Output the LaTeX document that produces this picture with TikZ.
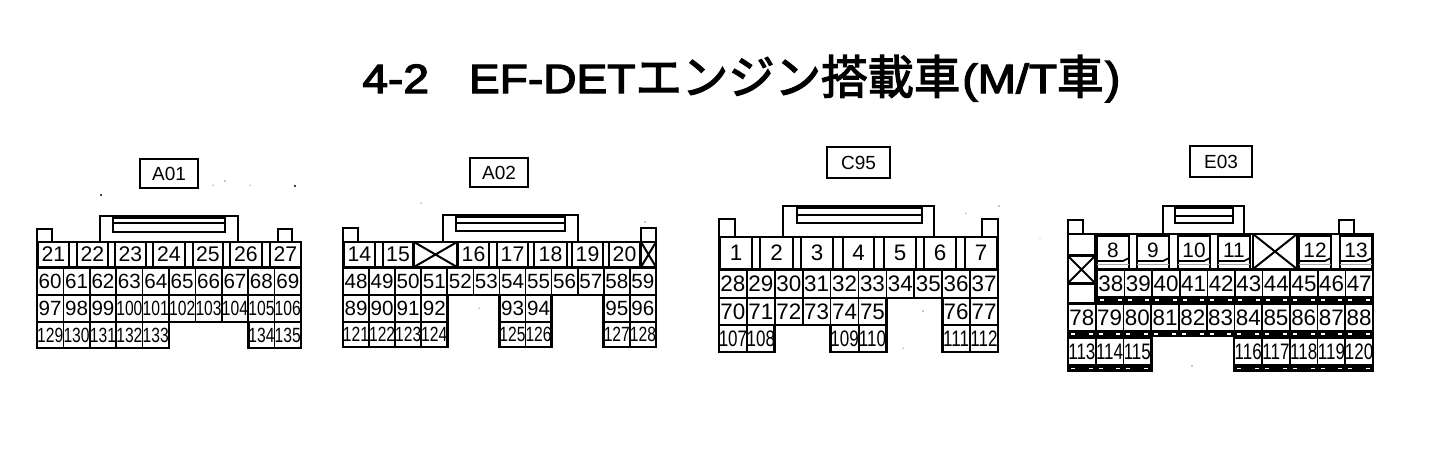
\documentclass[tikz,border=0pt]{standalone}
\usepackage{fontspec}
\setmainfont{Liberation Sans}
\newfontfamily\ttllatin[FakeStretch=1.13,FakeBold=3.2]{Liberation Sans}
\newfontfamily\ttlclose[FakeBold=3.2]{Liberation Sans}
\newfontfamily\ttlcjk[FakeBold=2.6]{Noto Sans CJK JP}
\tikzset{
  pinbox/.style={draw=black,line width=0.85pt,inner sep=0pt,outer sep=0pt,font=\fontsize{10.3}{11}\selectfont},
  topbox/.style={pinbox,font=\fontsize{10.6}{11}\selectfont},
  bigbox/.style={pinbox,font=\fontsize{11.2}{12}\selectfont},
  plainbox/.style={draw=none,inner sep=0pt,outer sep=0pt,text height=8.6pt,text depth=0pt,font=\fontsize{10.4}{12}\selectfont},
  body/.style={draw=black,line width=1.1pt},
  outline/.style={draw=black,line width=1.35pt},
  edge/.style={draw=black,line width=0.85pt},
  thin/.style={draw=black!35,line width=0.5pt},
  tag/.style={draw=black,line width=0.9pt,inner sep=0pt,font=\fontsize{9.5}{11}\selectfont},
  crossbox/.style={draw=black,line width=0.85pt,inner sep=0pt,outer sep=0pt},
  crossline/.style={draw=black,line width=1pt},
  bar/.style={fill=black,draw=none},
  tick/.style={fill=white,draw=none},
  speck/.style={fill=black,draw=none}
}
% name, x0, x1, y0, y1, text, style
\newcommand{\pinat}[7]{\node[#7,minimum width={(#3-#2)*0.5pt},minimum height={(#5-#4)*0.5pt}] (#1) at ({(#2+#3)/2},{(#4+#5)/2}) {#6};}
% x start, cell width, y0, y1, style, index/label list
\newcommand{\pinrow}[6]{\foreach \i/\n in {#6}{%
  \pgfmathsetmacro{\xa}{#1+\i*#2}\pgfmathsetmacro{\xb}{#1+(\i+1)*#2}%
  \pinat{p\n}{\xa}{\xb}{#3}{#4}{\n}{#5}}}
\newcommand{\pinrown}[6]{\foreach \i/\n in {#6}{%
  \pgfmathsetmacro{\xa}{#1+\i*#2}\pgfmathsetmacro{\xb}{#1+(\i+1)*#2}%
  \pinat{p\n}{\xa}{\xb}{#3}{#4}{\scalebox{0.76}[1]{\n}}{#5}}}
% first row: list of x0/x1/label
\newcommand{\toprow}[4]{\foreach \xa/\xb/\n in {#4}{\pinat{p\n}{\xa}{\xb}{#1}{#2}{\n}{#3}}}
\newcommand{\crosscell}[5]{\pinat{#1}{#2}{#3}{#4}{#5}{}{crossbox}\draw[crossline] (#1.north west)--(#1.south east) (#1.north east)--(#1.south west);}
% white ticks on a black bar: x start, cell width, y, index list
\newcommand{\barticks}[4]{\foreach \i in {#4}{%
  \pgfmathsetmacro{\xa}{#1+\i*#2}\pgfmathsetmacro{\xb}{#1+(\i+1)*#2}%
  \fill[tick] (\xa+3,#3-0.7) rectangle (\xa+7,#3+0.7);
  \fill[tick] (\xb-7,#3-0.7) rectangle (\xb-3,#3+0.7);}}
\begin{document}
\begin{tikzpicture}[x=0.5pt,y=-0.5pt]
\useasboundingbox (0,0) rectangle (1452,468);
% title
\node[anchor=base west,inner sep=0pt] (title) at (362,93) {{\ttllatin\fontsize{20.4}{24}\selectfont 4-2\hspace{20pt}EF-DET}\raisebox{-0.5pt}{\ttlcjk\fontsize{23.2}{24}\selectfont エンジン搭載車}\hspace{1pt}{\ttllatin\fontsize{20.4}{24}\selectfont (M/T}\raisebox{-0.5pt}{\ttlcjk\fontsize{23.2}{24}\selectfont 車}\hspace{1pt}{\ttlclose\fontsize{22}{24}\selectfont )}};
% specks
\foreach \sx/\sy/\sr in {101/195/1.1,295/186/1.1,225/181/0.6,250/185/0.5,213/185/0.5,1040/238/0.4,999/206/0.6,966/213/0.5,923/311/0.6,903/348/0.5,1192/366/0.6,479/308/0.5,421/203/0.5,645/222/0.6}{\fill[speck] (\sx,\sy) circle (\sr);}
% ---------- A01
\node[tag,minimum width=29pt,minimum height=14.5pt] (tA01) at (169,173.5) {A01};
\draw[body] (37,242)--(37,229)--(52,229)--(52,242);
\draw[body] (278,242)--(278,229)--(292,229)--(292,242);
\draw[body] (100,242)--(100,216)--(238,216)--(238,242);
\draw[body] (113,218) rectangle (225,232);
\draw[body,line width=0.7pt] (113,223)--(225,223);
\toprow{242}{267}{topbox}{38/69/21,77/108/22,115/146/23,153/185/24,193/223/25,230/262/26,270/301/27}
\pinrow{37}{26.4}{268}{295}{pinbox}{0/60,1/61,2/62,3/63,4/64,5/65,6/66,7/67,8/68,9/69}
\pinrow{37}{26.4}{295}{322}{pinbox}{0/97,1/98,2/99}
\pinrown{37}{26.4}{295}{322}{pinbox}{3/100,4/101,5/102,6/103,7/104,8/105,9/106}
\pinrown{37}{26.4}{322}{348}{pinbox}{0/129,1/130,2/131,3/132,4/133,8/134,9/135}
\draw[outline] (37,242)--(301,242)--(301,267)--(37,267)--cycle;
\draw[outline] (37,267)--(37,348)--(169,348)--(169,322)--(248.2,322)--(248.2,348)--(301,348)--(301,267);
% ---------- A02
\node[tag,minimum width=29pt,minimum height=14.5pt] (tA02) at (499,172.5) {A02};
\draw[body] (343,242)--(343,228)--(358,228)--(358,242);
\draw[body] (641,242)--(641,228)--(656,228)--(656,242);
\draw[body] (443,242)--(443,215)--(578,215)--(578,242);
\draw[body] (456,217) rectangle (565,231);
\draw[body,line width=0.7pt] (456,223)--(565,223);
\toprow{242}{267}{topbox}{344/375/14,383/413/15,458/489/16,497/528/17,534/567/18,572/603/19,609/640/20}
\crosscell{xA}{414}{457}{242}{267}
\crosscell{xB}{641}{656}{242}{267}
\pinrow{343}{26.08}{268}{295}{pinbox}{0/48,1/49,2/50,3/51,4/52,5/53,6/54,7/55,8/56,9/57,10/58,11/59}
\pinrow{343}{26.08}{295}{322}{pinbox}{0/89,1/90,2/91,3/92,6/93,7/94,10/95,11/96}
\pinrown{343}{26.08}{322}{347}{pinbox}{0/121,1/122,2/123,3/124,6/125,7/126,10/127,11/128}
\draw[outline] (343,242) rectangle (656,267);
\draw[outline] (343,267)--(343,347)--(447.3,347)--(447.3,295)--(499.5,295)--(499.5,347)--(551.6,347)--(551.6,295)--(603.8,295)--(603.8,347)--(656,347)--(656,267);
% ---------- C95
\node[tag,minimum width=31.5pt,minimum height=15.5pt] (tC95) at (858.5,162.5) {C95};
\draw[body] (719,237)--(719,219)--(735,219)--(735,237);
\draw[body] (982,237)--(982,219)--(998,219)--(998,237);
\draw[body] (783,237)--(783,206)--(934,206)--(934,237);
\draw[body] (797,208) rectangle (922,223);
\draw[body,line width=0.7pt] (797,215)--(922,215);
\toprow{237}{269}{bigbox}{720/752/1,760/793/2,801/833/3,843/874/4,884/916/5,924/956/6,965/997/7}
\pinrow{719}{27.9}{270}{298}{bigbox}{0/28,1/29,2/30,3/31,4/32,5/33,6/34,7/35,8/36,9/37}
\pinrow{719}{27.9}{298}{325}{bigbox}{0/70,1/71,2/72,3/73,4/74,5/75,8/76,9/77}
\pinrown{719}{27.9}{325}{352}{bigbox}{0/107,1/108,4/109,5/110,8/111,9/112}
\draw[outline] (719,237) rectangle (998,269);
\draw[outline] (719,269)--(719,352)--(774.8,352)--(774.8,325)--(830.6,325)--(830.6,352)--(886.4,352)--(886.4,298)--(942.2,298)--(942.2,352)--(998,352)--(998,269);
% ---------- E03
\node[tag,minimum width=31pt,minimum height=15.5pt] (tE03) at (1221,161.5) {E03};
\draw[body] (1068,234)--(1068,220)--(1083,220)--(1083,234);
\draw[body] (1339,234)--(1339,220)--(1354,220)--(1354,234);
\draw[body] (1163,234)--(1163,206)--(1244,206)--(1244,234);
\draw[body] (1175,208) rectangle (1233,223);
\draw[body,line width=0.7pt] (1175,216)--(1233,216);
\foreach \xa/\xb/\n in {1097/1129/8,1137/1169/9,1178/1210/10,1218/1250/11,1299/1331/12,1340/1372/13}{
  \pinat{p\n}{\xa}{\xb}{236}{261}{\n}{plainbox}
  \draw[edge] ([yshift=-3.5pt]p\n.south west)--(p\n.north west)--(p\n.north east)--([yshift=-3.5pt]p\n.south east);
  \draw[edge] (p\n.south west)--([xshift=-3pt]p\n.south east)--([yshift=1.5pt]p\n.south east);
  \draw[thin] ([yshift=-1.5pt]p\n.south west)--([yshift=-1.5pt]p\n.south east);
}
\crosscell{xC}{1253}{1297}{234}{269}
\pinat{xD}{1068}{1095}{234}{255}{}{crossbox}
\crosscell{xE}{1068}{1095}{256}{283}
\pinat{xF}{1068}{1095}{284}{303}{}{crossbox}
\pinrow{1097}{27.6}{270}{297}{bigbox}{0/38,1/39,2/40,3/41,4/42,5/43,6/44,7/45,8/46,9/47}
\fill[bar] (1096,297) rectangle (1373,303);
\barticks{1097}{27.6}{300}{0,1,2,3,4,5,6,7,8,9}
\pinrow{1068}{27.73}{304}{331}{bigbox}{0/78,1/79,2/80,3/81,4/82,5/83,6/84,7/85,8/86,9/87,10/88}
\fill[bar] (1068,331) rectangle (1373,337);
\barticks{1068}{27.73}{334}{0,1,2,3,4,5,6,7,8,9,10}
\pinrown{1068}{27.73}{338}{365}{bigbox}{0/113,1/114,2/115,6/116,7/117,8/118,9/119,10/120}
\fill[bar] (1068,365) rectangle (1152,372);
\fill[bar] (1234,365) rectangle (1373,372);
\barticks{1068}{27.73}{368.5}{0,1,2,6,7,8,9,10}
\draw[outline] (1068,234)--(1373,234)--(1373,269)--(1096,269)--(1096,303)--(1068,303)--cycle;
\draw[outline] (1068,303)--(1068,372) (1373,269)--(1373,372) (1152,337)--(1152,372) (1234,337)--(1234,372);
\end{tikzpicture}
\end{document}
